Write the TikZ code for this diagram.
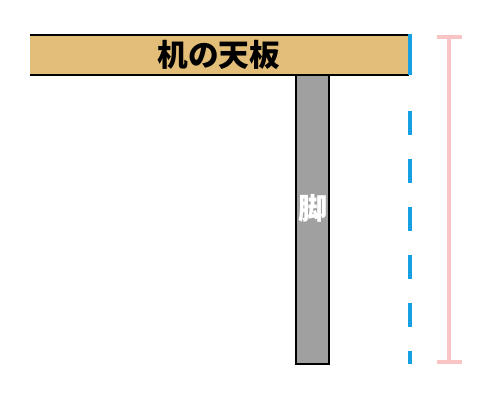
\documentclass[tikz,border=0pt]{standalone}
\usepackage{fontspec}
\newfontfamily\cjk{Noto Sans CJK JP}
\definecolor{boardtan}{RGB}{227,190,120}
\definecolor{leggray}{RGB}{160,160,160}
\definecolor{lineblue}{RGB}{20,160,226}
\definecolor{dimpink}{RGB}{248,196,196}
\begin{document}
\begin{tikzpicture}[x=0.75pt,y=-0.75pt]
\useasboundingbox (0,0) rectangle (480,400);
% leg under the board
\draw[fill=leggray,line width=1.5pt] (296.5,70) rectangle (329.5,363.5);
\node[text=white,font=\cjk\bfseries\fontsize{22}{22}\selectfont] (legtext) at (313,208) {脚};
% board
\fill[boardtan] (30,34) rectangle (409,75);
\draw[line width=1.5pt] (30,34.5) -- (409,34.5);
\draw[line width=1.5pt] (30,74.5) -- (409,74.5);
\node[font=\cjk\bfseries\fontsize{23}{23}\selectfont] (boardtext) at (219,55) {机の天板};
% edge line
\draw[lineblue,line width=3.6pt] (410,34) -- (410,75);
\draw[lineblue,line width=3.6pt,dash pattern=on 18pt off 18pt] (410,111) -- (410,364);
% height
\draw[dimpink,line width=2.6pt] (449,37) -- (449,362);
\draw[dimpink,line width=2.6pt] (437,37) -- (462,37);
\draw[dimpink,line width=2.6pt] (437,362) -- (462,362);
\end{tikzpicture}
\end{document}
